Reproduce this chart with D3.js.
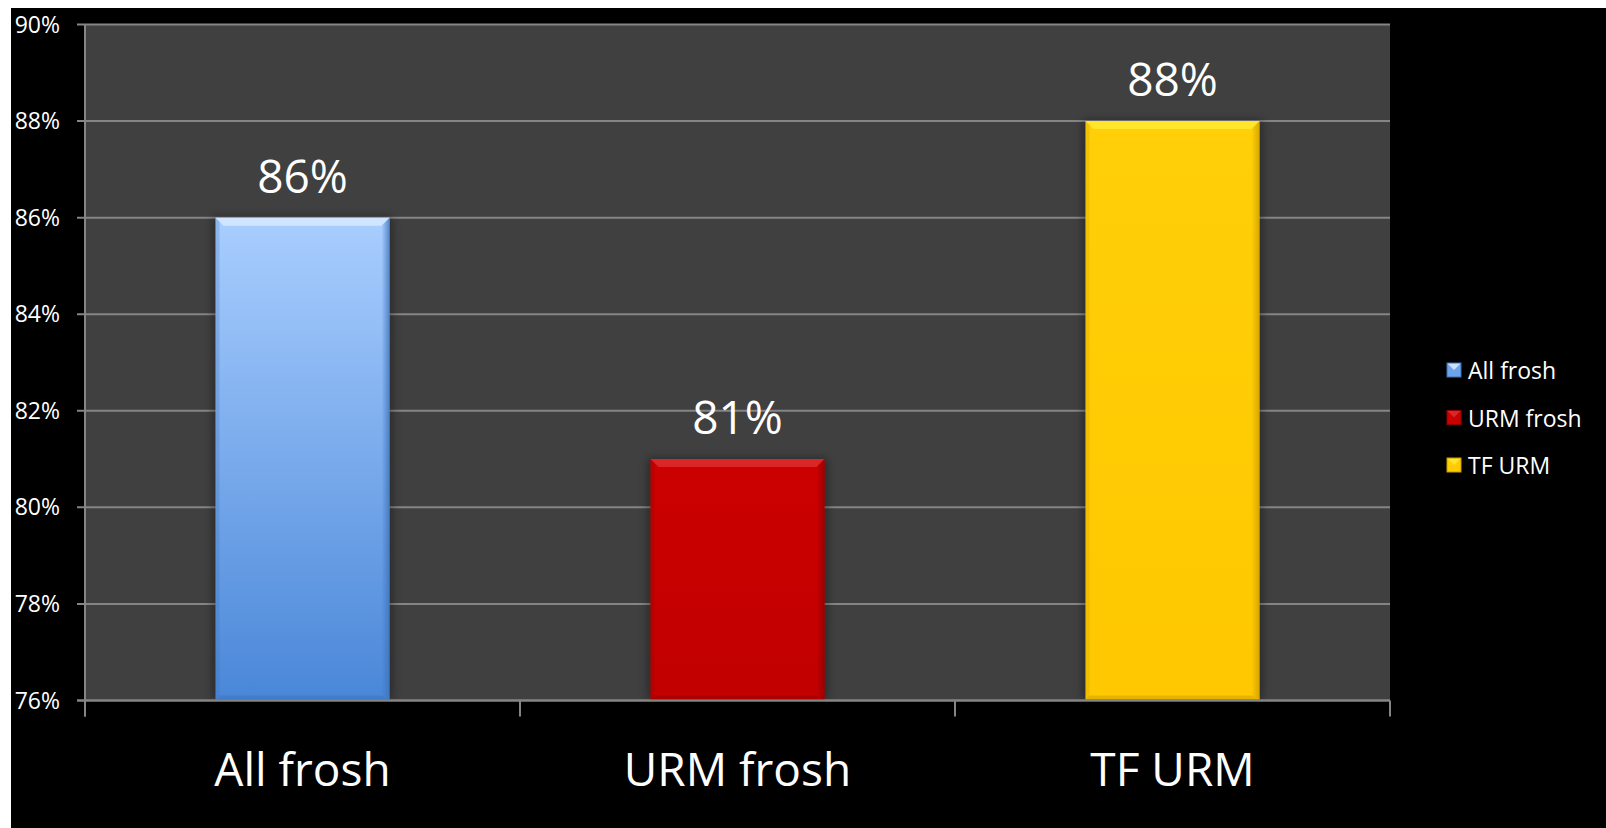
<!DOCTYPE html>
<html>
<head>
<meta charset="utf-8">
<script src="https://cdn.jsdelivr.net/npm/d3@7"></script>
<style>
  html, body { margin: 0; padding: 0; background: #ffffff; }
  svg { display: block; }
  text { font-family: "Open Sans", "Noto Sans", sans-serif; fill: #ffffff; }
</style>
</head>
<body>
<svg id="chart" width="1606" height="828"></svg>
<script>
// Retention rates by group
const categories = ["All frosh", "URM frosh", "TF URM"];
const values = [86, 81, 88];
const valueLabels = ["86%", "81%", "88%"];
const yTicks = [76, 78, 80, 82, 84, 86, 88, 90];
const yTickLabels = ["76%", "78%", "80%", "82%", "84%", "86%", "88%", "90%"];
const seriesColors = [
  { top: "#a9ceff", bottom: "#4a87d8", bevel: "#d4e8ff", edge: "#3a70b8", flat: "#6fa3ea" },
  { top: "#cc0000", bottom: "#c20000", bevel: "#dc2a2a", edge: "#8f0000", flat: "#c80000" },
  { top: "#ffcf08", bottom: "#ffc800", bevel: "#ffe830", edge: "#c89a00", flat: "#ffcc00" }
];

const svg = d3.select("#chart");
const W = 1606, H = 828;
const plot = { left: 85, right: 1390, top: 24.5, bottom: 700.5 };

// Slide background: white margin, black chart area
svg.append("rect").attr("width", W).attr("height", H).attr("fill", "#ffffff");
svg.append("rect").attr("x", 11).attr("y", 8).attr("width", W - 11).attr("height", H - 8).attr("fill", "#000000");

const y = d3.scaleLinear().domain([76, 90]).range([plot.bottom, plot.top]);
const slot = d3.scaleBand().domain(categories).range([plot.left, plot.right]).padding(0);
const x = d3.scaleBand().domain(categories).range([plot.left, plot.right])
  .paddingInner(0.6).paddingOuter(0.3);

const defs = svg.append("defs");
seriesColors.forEach((c, i) => {
  const g = defs.append("linearGradient").attr("id", "barGrad" + i)
    .attr("x1", 0).attr("y1", 0).attr("x2", 0).attr("y2", 1);
  g.append("stop").attr("offset", "0%").attr("stop-color", c.top);
  g.append("stop").attr("offset", "100%").attr("stop-color", c.bottom);
  const s = defs.append("linearGradient").attr("id", "sideGrad" + i)
    .attr("x1", 0).attr("y1", 0).attr("x2", 1).attr("y2", 0);
  s.append("stop").attr("offset", "0%").attr("stop-color", c.edge).attr("stop-opacity", 0.0);
  s.append("stop").attr("offset", "100%").attr("stop-color", c.edge).attr("stop-opacity", 0.75);
});
const blur = defs.append("filter").attr("id", "shadow")
  .attr("x", "-20%").attr("y", "-20%").attr("width", "140%").attr("height", "140%");
blur.append("feGaussianBlur").attr("stdDeviation", 4);

// Plot background
svg.append("rect")
  .attr("x", plot.left).attr("y", plot.top)
  .attr("width", plot.right - plot.left).attr("height", plot.bottom - plot.top)
  .attr("fill", "#404040");

// Horizontal gridlines
svg.append("g").selectAll("line").data(yTicks).join("line")
  .attr("x1", plot.left - 8).attr("x2", plot.right)
  .attr("y1", d => y(d)).attr("y2", d => y(d))
  .attr("stroke", "#858585").attr("stroke-width", 2);

// Y axis line
svg.append("line")
  .attr("x1", plot.left).attr("x2", plot.left)
  .attr("y1", plot.top).attr("y2", plot.bottom + 16)
  .attr("stroke", "#858585").attr("stroke-width", 2);

// Y tick labels
svg.append("g").selectAll("text").data(yTicks).join("text")
  .attr("x", 60).attr("y", d => y(d))
  .attr("dy", "0.35em")
  .attr("text-anchor", "end")
  .attr("font-size", 23)
  .text((d, i) => yTickLabels[i]);

// Category boundary ticks on the x axis
const boundaries = categories.map(c => slot(c)).concat([plot.right]);
svg.append("g").selectAll("line").data(boundaries).join("line")
  .attr("x1", d => d).attr("x2", d => d)
  .attr("y1", plot.bottom).attr("y2", plot.bottom + 16)
  .attr("stroke", "#858585").attr("stroke-width", 2);

// Bars with bevelled edges
const bev = 8;
const bars = svg.append("g").selectAll("g").data(categories).join("g");
bars.each(function (c, i) {
  const g = d3.select(this);
  const x0 = x(c), bw = x.bandwidth();
  const yt = y(values[i]), yb = y(76) - 1;
  const col = seriesColors[i];
  g.append("rect").attr("x", x0 - 3).attr("y", yt - 1).attr("width", bw + 6).attr("height", yb - yt + 1)
    .attr("fill", "#000").attr("opacity", 0.35).attr("filter", "url(#shadow)");
  g.append("rect").attr("x", x0).attr("y", yt).attr("width", bw).attr("height", yb - yt)
    .attr("fill", `url(#barGrad${i})`);
  // top bevel
  g.append("polygon")
    .attr("points", [[x0, yt], [x0 + bw, yt], [x0 + bw - bev, yt + bev], [x0 + bev, yt + bev]].map(p => p.join(",")).join(" "))
    .attr("fill", col.bevel).attr("opacity", 0.9);
  // left bevel
  g.append("polygon")
    .attr("points", [[x0, yt], [x0 + 4, yt + 4], [x0 + 4, yb - 4], [x0, yb]].map(p => p.join(",")).join(" "))
    .attr("fill", col.edge).attr("opacity", 0.25);
  // right bevel
  g.append("polygon")
    .attr("points", [[x0 + bw, yt], [x0 + bw - bev, yt + bev], [x0 + bw - bev, yb - 4], [x0 + bw, yb]].map(p => p.join(",")).join(" "))
    .attr("fill", `url(#sideGrad${i})`);
  // bottom bevel
  g.append("polygon")
    .attr("points", [[x0, yb], [x0 + 4, yb - 4], [x0 + bw - bev, yb - 4], [x0 + bw, yb]].map(p => p.join(",")).join(" "))
    .attr("fill", col.edge).attr("opacity", 0.45);
});

// Baseline over the bars
svg.append("line")
  .attr("x1", plot.left - 8).attr("x2", plot.right)
  .attr("y1", y(76)).attr("y2", y(76))
  .attr("stroke", "#858585").attr("stroke-width", 2);

// Value labels
svg.append("g").selectAll("text").data(categories).join("text")
  .attr("x", c => x(c) + x.bandwidth() / 2)
  .attr("y", (c, i) => y(values[i]) - 25)
  .attr("text-anchor", "middle")
  .attr("font-size", 46)
  .text((c, i) => valueLabels[i]);

// Category labels
svg.append("g").selectAll("text").data(categories).join("text")
  .attr("x", c => slot(c) + slot.bandwidth() / 2)
  .attr("y", 786)
  .attr("text-anchor", "middle")
  .attr("font-size", 46)
  .text(c => c);

// Legend
const legend = svg.append("g").selectAll("g").data(categories).join("g")
  .attr("transform", (c, i) => `translate(1447, ${363 + i * 47.5})`);
legend.each(function (c, i) {
  const g = d3.select(this);
  const col = seriesColors[i];
  const s = 14;
  g.append("rect").attr("width", s).attr("height", s).attr("fill", col.flat);
  g.append("polygon").attr("points", `0,0 ${s},0 ${s / 2},${s / 2}`).attr("fill", col.bevel).attr("opacity", 0.9);
  g.append("rect").attr("width", s).attr("height", s).attr("fill", "none")
    .attr("stroke", col.edge).attr("stroke-width", 1);
  g.append("text").attr("x", 21).attr("y", 16).attr("font-size", 23).text(c);
});
</script>
</body>
</html>
